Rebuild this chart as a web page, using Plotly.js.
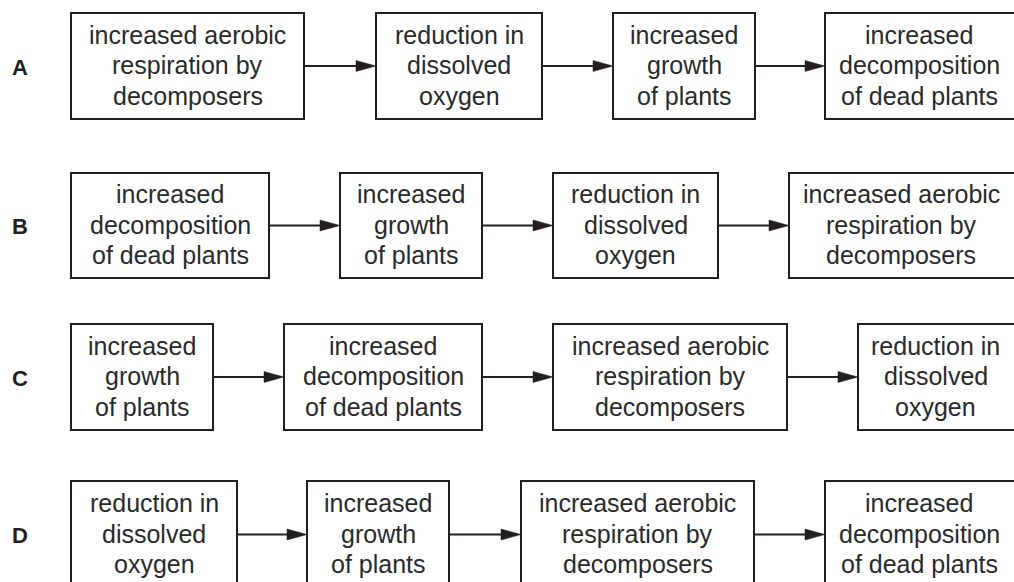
<!DOCTYPE html>
<html>
<head>
<meta charset="utf-8">
<script src="https://cdn.plot.ly/plotly-3.0.1.min.js"></script>
<style>html,body{margin:0;padding:0;background:#fff;}#chart{width:1014px;height:582px;}</style>
</head>
<body>
<div id="chart"></div>
<script>
// ---- content ----
const rowLabels = ['A', 'B', 'C', 'D'];
const stageRespiration = ['increased aerobic', 'respiration by', 'decomposers'];
const stageOxygen = ['reduction in', 'dissolved', 'oxygen'];
const stageGrowth = ['increased', 'growth', 'of plants'];
const stageDecomposition = ['increased', 'decomposition', 'of dead plants'];
const sequenceA = [stageRespiration, stageOxygen, stageGrowth, stageDecomposition];
const sequenceB = [stageDecomposition, stageGrowth, stageOxygen, stageRespiration];
const sequenceC = [stageGrowth, stageDecomposition, stageRespiration, stageOxygen];
const sequenceD = [stageOxygen, stageGrowth, stageRespiration, stageDecomposition];
const sequences = [sequenceA, sequenceB, sequenceC, sequenceD];

// ---- layout geometry (pixel space of the axes) ----
const rowTopBottom = [[13, 119], [173, 278], [324, 430], [481, 588]];
const boxLeftRight = [
  [[71, 304], [376, 542], [613, 755], [825, 1020]],
  [[71, 269], [340, 482], [553, 718], [789, 1020]],
  [[71, 213], [284, 482], [553, 787], [858, 1020]],
  [[71, 237], [307, 449], [521, 754], [825, 1020]]
];
const ink = '#231f20';
const textInk = '#2a2a2a';
const lineGap = 30.5;
const textShift = -1;
const headLen = 20, headHalf = 5.5;

const shapes = [];
const annotations = [];

sequences.forEach((seq, r) => {
  const [yt, yb] = rowTopBottom[r];
  const yc = (yt + yb) / 2;
  annotations.push({
    x: 20, y: yc + 1, xref: 'x', yref: 'y', text: '<b>' + rowLabels[r] + '</b>', showarrow: false,
    xanchor: 'center', yanchor: 'middle',
    font: {family: 'Liberation Sans, Arial, sans-serif', size: 22, color: ink}
  });
  seq.forEach((lines, c) => {
    const [xl, xr] = boxLeftRight[r][c];
    shapes.push({type: 'rect', xref: 'x', yref: 'y', x0: xl, x1: xr, y0: yt, y1: yb,
      line: {color: ink, width: 2}, fillcolor: 'rgba(0,0,0,0)'});
    const xc = (xl + Math.min(xr, 1013)) / 2;
    lines.forEach((t, k) => {
      annotations.push({
        x: xc, y: yc + textShift + (k - 1) * lineGap, xref: 'x', yref: 'y', text: t,
        showarrow: false, xanchor: 'center', yanchor: 'middle',
        font: {family: 'Liberation Sans, Arial, sans-serif', size: 25, color: textInk}
      });
    });
    if (c < seq.length - 1) {
      const tip = boxLeftRight[r][c + 1][0];
      shapes.push({type: 'line', xref: 'x', yref: 'y', x0: xr, x1: tip - headLen + 2, y0: yc, y1: yc,
        line: {color: ink, width: 2}});
      shapes.push({type: 'path', xref: 'x', yref: 'y',
        path: `M ${tip} ${yc} L ${tip - headLen} ${yc - headHalf} L ${tip - headLen} ${yc + headHalf} Z`,
        fillcolor: ink, line: {color: ink, width: 0.5}});
    }
  });
});

const layout = {
  width: 1014, height: 582,
  margin: {l: 0, r: 0, t: 0, b: 0},
  paper_bgcolor: '#ffffff', plot_bgcolor: '#ffffff',
  xaxis: {range: [0, 1014], visible: false, fixedrange: true},
  yaxis: {range: [582, 0], visible: false, fixedrange: true},
  showlegend: false,
  shapes: shapes,
  annotations: annotations
};

Plotly.newPlot('chart', [{x: [], y: [], type: 'scatter', hoverinfo: 'skip'}], layout, {displayModeBar: false, staticPlot: true});
</script>
</body>
</html>
